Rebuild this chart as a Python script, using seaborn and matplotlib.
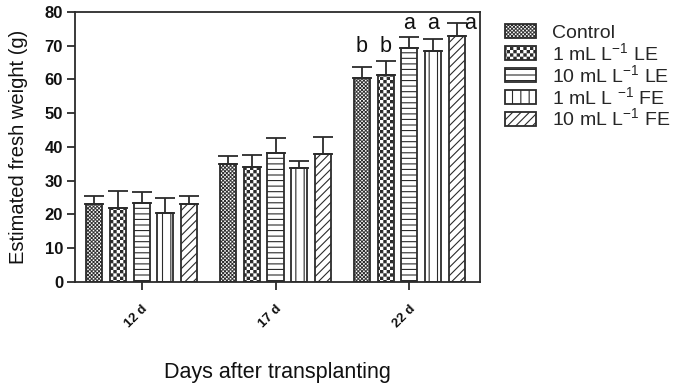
import numpy as np
import pandas as pd
import matplotlib
matplotlib.use("Agg")
import matplotlib.pyplot as plt
import matplotlib.hatch as mhatch
from matplotlib.path import Path
import seaborn as sns

# ---- data -------------------------------------------------------------
days = ["12 d", "17 d", "22 d"]
treatments = ["Control", "1 mL L$^{-1}$ LE", "10 mL L$^{-1}$ LE",
              "1 mL L $^{-1}$ FE", "10 mL L$^{-1}$ FE"]

control = [23.0, 35.0, 60.3]
le_1 = [22.0, 34.1, 61.2]
le_10 = [23.5, 38.2, 69.3]
fe_1 = [20.5, 33.9, 68.3]
fe_10 = [23.0, 38.0, 72.8]

control_se = [2.5, 2.2, 3.3]
le_1_se = [5.0, 3.5, 4.3]
le_10_se = [3.2, 4.4, 3.2]
fe_1_se = [4.5, 2.0, 3.7]
fe_10_se = [2.5, 4.8, 4.0]

# significance letters for the last sampling date
letters_22d = ["b", "b", "a", "a", "a"]

HATCH_LW = 0.8  # points


# ---- checkerboard hatches ---------------------------------------------
class _Checker(mhatch.HatchPatternBase):
    char = "o"
    # the hatch path is filled and stroked; shrink each square by the
    # stroke width (unit cell = 1 inch) so black and white cells balance
    shrink = HATCH_LW / 72.0

    def __init__(self, hatch, density):
        self.cells = int(hatch.count(self.char) * density)
        if self.cells:
            self.squares = [(i, j) for i in range(self.cells)
                            for j in range(self.cells) if (i + j) % 2 == 0]
        else:
            self.squares = []
        self.num_vertices = 5 * len(self.squares)

    def set_vertices_and_codes(self, vertices, codes):
        s = 1.0 / self.cells
        d = self.shrink / 2
        k = 0
        for i, j in self.squares:
            x0, y0 = i * s + d, j * s + d
            x1, y1 = (i + 1) * s - d, (j + 1) * s - d
            vertices[k:k + 5] = [(x0, y0), (x1, y0), (x1, y1), (x0, y1), (x0, y0)]
            codes[k:k + 5] = [Path.MOVETO, Path.LINETO, Path.LINETO,
                              Path.LINETO, Path.CLOSEPOLY]
            k += 5


class _FineChecker(_Checker):
    char = "O"
    shrink = 0.009


mhatch._hatch_types = [mhatch.HorizontalHatch, mhatch.VerticalHatch,
                       mhatch.NorthEastHatch, mhatch.SouthEastHatch,
                       _Checker, _FineChecker]

hatches = ["O" * 9, "ooooo", "---", "||", "////"]

# ---- style -------------------------------------------------------------
sns.set_theme(style="ticks")
plt.rcParams["font.family"] = ["Liberation Sans", "DejaVu Sans"]
plt.rcParams["mathtext.default"] = "regular"
plt.rcParams["hatch.linewidth"] = HATCH_LW
ink = "#2b2b2b"

long = []
for t, vals in zip(treatments, [control, le_1, le_10, fe_1, fe_10]):
    for d, v in zip(days, vals):
        long.append({"day": d, "treatment": t, "weight": v})
df = pd.DataFrame(long)
errs = dict(zip(treatments, [control_se, le_1_se, le_10_se, fe_1_se, fe_10_se]))

fig = plt.figure(figsize=(6.81, 3.86), dpi=100)
ax = fig.add_axes([0.110, 0.2694, 0.595, 0.700])

sns.barplot(data=df, x="day", y="weight", hue="treatment",
            order=days, hue_order=treatments,
            palette={t: "white" for t in treatments},
            errorbar=None, width=0.885, gap=0.32,
            edgecolor=ink, linewidth=1.3, legend=False, ax=ax)

for cont, h, t in zip(ax.containers, hatches, treatments):
    xs, tops = [], []
    for p in cont.patches:
        p.set_hatch(h)
        xs.append(p.get_x() + p.get_width() / 2)
        tops.append(p.get_height())
    e = errs[t]
    ax.errorbar(xs, tops, yerr=[np.zeros(len(e)), e], fmt="none",
                ecolor=ink, elinewidth=1.3, capsize=7, capthick=1.3, zorder=3)

# letters above the 22 d bars
tops22 = []
xs22 = []
for cont, t in zip(ax.containers, treatments):
    p = cont.patches[2]
    xs22.append(p.get_x() + p.get_width() / 2)
    tops22.append(p.get_height() + errs[t][2])
for letter in sorted(set(letters_22d)):
    idx = [i for i, l in enumerate(letters_22d) if l == letter]
    base = min(max(tops22[i] for i in idx) + 2.5, 75.0)
    for i in idx:
        dx = 0.1 if tops22[i] > base - 1 else 0.0
        ax.text(xs22[i] + dx, base, letter, ha="center", va="baseline",
                fontsize=15.5, color="#111")

ax.set_ylim(0, 80)
ax.set_xlim(-0.5, 2.53)
ax.set_yticks(np.arange(0, 81, 10))
ax.set_xticks(range(len(days)))
ax.set_xticklabels(days, rotation=45, ha="right", va="top",
                   rotation_mode="anchor", fontsize=9.5, fontweight="bold")
for lab in ax.get_yticklabels():
    lab.set_fontweight("bold")
ax.tick_params(axis="y", labelsize=12, length=6, width=1.3, color=ink,
               pad=2.5, labelcolor="#111")
ax.tick_params(axis="x", length=6, width=1.3, color=ink, pad=9,
               labelcolor="#111")
for s in ax.spines.values():
    s.set_visible(True)
    s.set_color(ink)
    s.set_linewidth(1.3)

ax.set_ylabel("Estimated fresh weight (g)", fontsize=14.5, color="#111",
              labelpad=12)
ax.set_xlabel("Days after transplanting", fontsize=15.5, color="#111",
              labelpad=23)

fig.legend(ax.containers, treatments, loc="upper left",
           bbox_to_anchor=(0.742, 0.937), frameon=False, fontsize=14,
           handlelength=1.6, handleheight=0.7, handletextpad=0.8,
           labelspacing=0.0, borderpad=0, borderaxespad=0)

fig.savefig("out.png", dpi=100)
